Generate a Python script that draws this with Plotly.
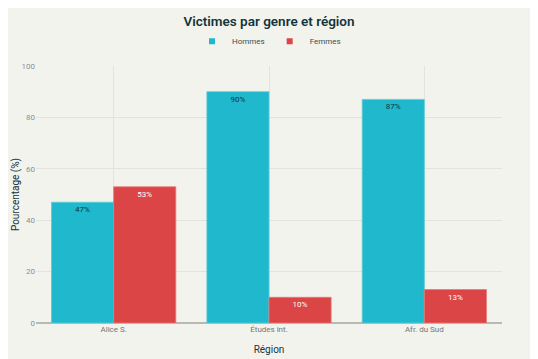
import plotly.graph_objects as go

regions = ["Alice S.", "Études int.", "Afr. du Sud"]
hommes = [47, 90, 87]
femmes = [53, 10, 13]
series_names = ["Hommes", "Femmes"]
colors = ["#1FB8CD", "#DB4545"]

fig = go.Figure()
fig.add_trace(go.Bar(
    name=series_names[0], x=regions, y=hommes, showlegend=False,
    marker=dict(color=colors[0], line=dict(color="#5ccbd9", width=0.8)),
    text=[f"{v}%" for v in hommes], textposition="inside", insidetextanchor="end",
    textfont=dict(color="#13343B", size=8),
))
fig.add_trace(go.Bar(
    name=series_names[1], x=regions, y=femmes, showlegend=False,
    marker=dict(color=colors[1], line=dict(color="#e57878", width=0.8)),
    text=[f"{v}%" for v in femmes], textposition="inside", insidetextanchor="end",
    textfont=dict(color="#FFFFFF", size=8),
))
# legend entries with small square markers
for n, c in zip(series_names, colors):
    fig.add_trace(go.Scatter(
        x=[None], y=[None], mode="markers", name=n,
        marker=dict(symbol="square", size=6, color=c),
    ))

fig.update_layout(
    width=538, height=359,
    paper_bgcolor="#F3F3EE", plot_bgcolor="#F3F3EE",
    font=dict(family="Roboto, Inter, sans-serif", color="#13343B", size=9),
    title=dict(text="Victimes par genre et région", x=0.5, xanchor="center",
               xref="paper", yref="container", y=1 - 13 / 359, yanchor="middle",
               font=dict(size=13.5, color="#13343B", weight=600)),
    legend=dict(orientation="h", x=0.5, xanchor="center", y=1.04, yanchor="bottom",
                font=dict(size=8, color="#3c4d52"), bgcolor="rgba(0,0,0,0)",
                itemwidth=30),
    margin=dict(l=28, r=44, t=58, b=44, autoexpand=False),
    bargap=0.2, bargroupgap=0,
    uniformtext=dict(minsize=8, mode="show"),
)
fig.update_xaxes(
    title=dict(text="Région", font=dict(size=10, color="#13343B"), standoff=12),
    showgrid=True, gridcolor="#E3E3DE", tickfont=dict(size=8, color="#6f7678"),
    showline=False, ticks="", automargin=False,
)
fig.update_yaxes(
    title=dict(text="Pourcentage (%)", font=dict(size=10, color="#13343B"), standoff=0),
    range=[0, 100], dtick=20, showgrid=True, gridcolor="#E3E3DE",
    zeroline=True, zerolinecolor="#B9B9B4", zerolinewidth=2,
    tickfont=dict(size=8, color="#8a9092"), automargin=False,
)

fig.write_html("out.html")
